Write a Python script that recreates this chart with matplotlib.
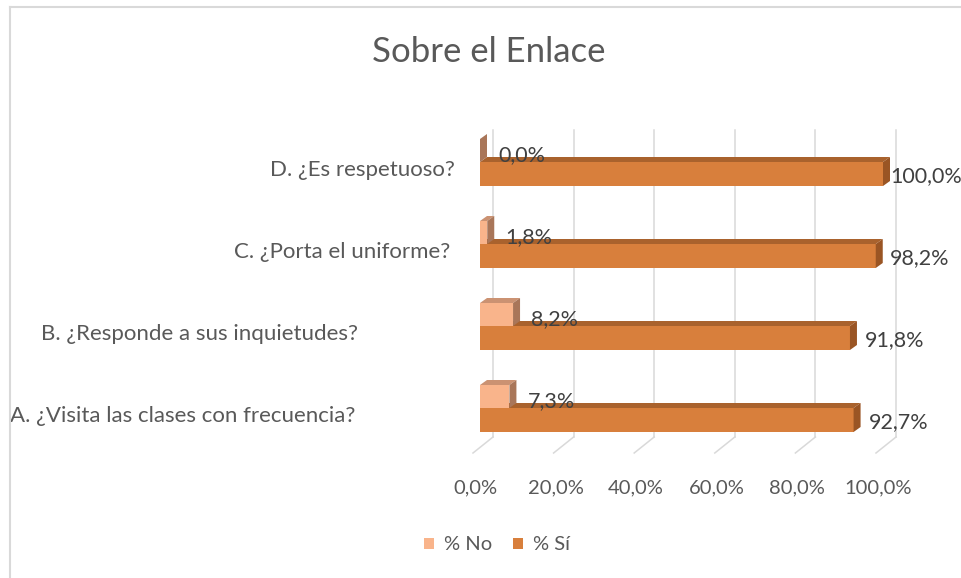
import matplotlib.pyplot as plt
from matplotlib.patches import Polygon, Rectangle, Patch
from matplotlib.lines import Line2D

categories = ["A. ¿Visita las clases con frecuencia?",
              "B. ¿Responde a sus inquietudes?",
              "C. ¿Porta el uniforme?",
              "D. ¿Es respetuoso?"]
pct_no = [7.3, 8.2, 1.8, 0.0]
pct_si = [92.7, 91.8, 98.2, 100.0]
x_ticks = [0, 20, 40, 60, 80, 100]
series_names = ["% No", "% Sí"]
title = "Sobre el Enlace"

plt.rcParams['font.family'] = ['Lato', 'DejaVu Sans']

W, H = 962, 578
fig = plt.figure(figsize=(W / 100, H / 100), dpi=100)

# axes geometry in pixels (front plane of the 3d chart)
x0_px, x100_px = 480, 883
row0_px, step_px = 408, 82          # from top, boundary between bars of row 0
ax = fig.add_axes([x0_px / W, (H - row0_px - step_px) / H,
                   (x100_px - x0_px) / W, 5 * step_px / H])
ax.set_xlim(0, 100)
ax.set_ylim(-1, 4)
ax.axis('off')

sx = (x100_px - x0_px) / 100.0
sy = float(step_px)

def dx(px):
    return px / sx

def ypx(p):  # pixel from top -> data y
    return (row0_px - p) / sy

grey = '#595959'
grid_c = '#D9D9D9'

# back wall gridlines + floor lines
back = dx(13)
front = dx(-7)
for t in x_ticks:
    ax.add_line(Line2D([t + back, t + back], [ypx(437), ypx(130)],
                       color=grid_c, lw=1.1, clip_on=False, zorder=1))
    ax.add_line(Line2D([t + front, t + back], [ypx(453), ypx(437)],
                       color=grid_c, lw=1.1, clip_on=False, zorder=1))
    ax.text(t + front + dx(2), ypx(488), f"{t:.1f}%".replace('.', ','),
            ha='center', va='center', fontsize=14.5, color=grey)

bh_si = 24 / sy
bh_no = 23 / sy
ddx, ddy = dx(7), 5 / sy

def bar3d(v, y0, h, face, top, side):
    ax.add_patch(Rectangle((0, y0), v, h, facecolor=face, edgecolor='none',
                           clip_on=False, zorder=3))
    ax.add_patch(Polygon([(0, y0 + h), (v, y0 + h), (v + ddx, y0 + h + ddy),
                          (ddx, y0 + h + ddy)], closed=True, facecolor=top,
                         edgecolor='none', clip_on=False, zorder=3))
    ax.add_patch(Polygon([(v, y0), (v + ddx, y0 + ddy), (v + ddx, y0 + h + ddy),
                          (v, y0 + h)], closed=True, facecolor=side,
                         edgecolor='none', clip_on=False, zorder=3))

no_c = ('#F9B48B', '#CB9272', '#A97659')
si_c = ('#D87F3C', '#A9622D', '#9A5524')

label_right = [355, 358, 450, 455]
label_c = '#404040'
for i, cat in enumerate(categories):
    bar3d(pct_si[i], i - bh_si, bh_si, *si_c)
    bar3d(pct_no[i], i, bh_no, *no_c)
    ax.text(dx(label_right[i] - x0_px), i - 8 / sy, cat, ha='right',
            va='center', fontsize=16, color=grey)
    xs = min(pct_si[i] + ddx + dx(8), dx(890 - x0_px))
    ax.text(xs, i - bh_si / 2 - 2 / sy, f"{pct_si[i]:.1f}%".replace('.', ','),
            ha='left', va='center', fontsize=15.5, color=label_c, zorder=5)
    ax.text(pct_no[i] + ddx + dx(11), i + bh_no / 2 - 5 / sy,
            f"{pct_no[i]:.1f}%".replace('.', ','),
            ha='left', va='center', fontsize=15.5, color=label_c, zorder=5)

fig.text(489 / W, 1 - 52 / H, title, ha='center', va='center',
         fontsize=25, color=grey)

handles = [Patch(facecolor=no_c[0]), Patch(facecolor=si_c[0])]
fig.legend(handles, series_names, loc='center', bbox_to_anchor=(497 / W, 1 - 545 / H),
           ncol=2, frameon=False, fontsize=14.5, labelcolor=grey,
           handlelength=0.5, handleheight=0.5, handletextpad=0.5, columnspacing=1.0)

# chart border (left and top visible)
fig.add_artist(Line2D([10 / W, 10 / W], [0, 1 - 7 / H], color=grid_c, lw=1.5,
                      transform=fig.transFigure))
fig.add_artist(Line2D([10 / W, 1], [1 - 7 / H, 1 - 7 / H], color=grid_c, lw=1.5,
                      transform=fig.transFigure))

fig.savefig('out.png', dpi=100)
